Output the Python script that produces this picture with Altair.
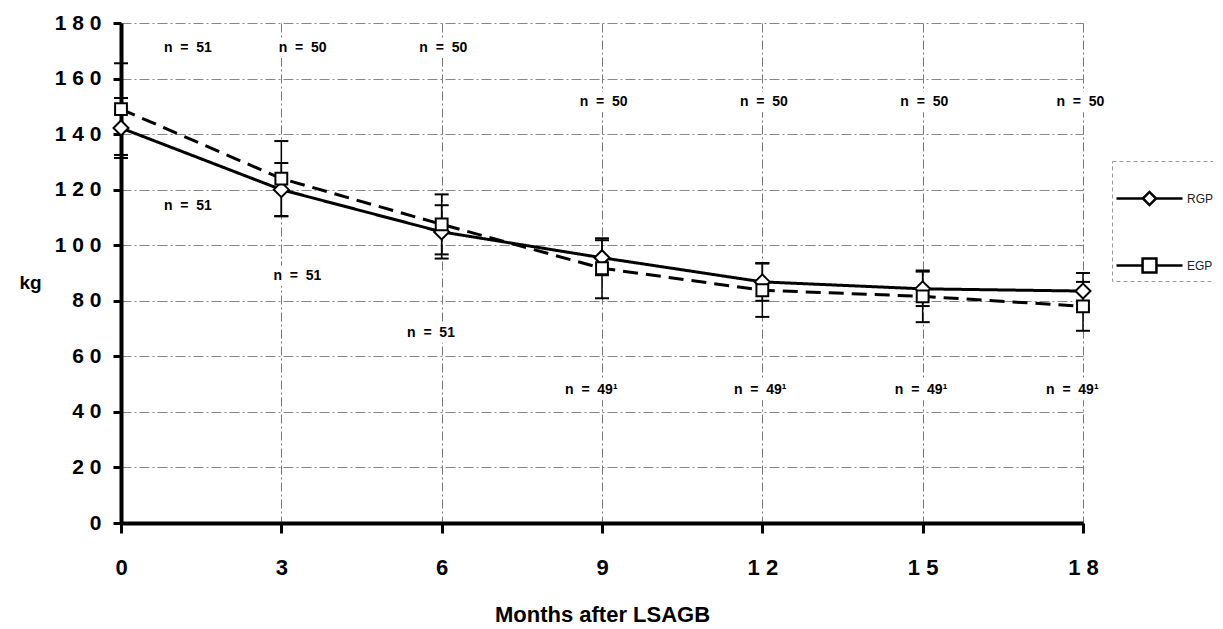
import altair as alt
import pandas as pd

# ---- data ----
months = [0, 3, 6, 9, 12, 15, 18]
series_names = ["RGP", "EGP"]
rgp_mean = [142.2, 120.0, 104.8, 95.5, 86.8, 84.3, 83.5]
rgp_sd = [10.8, 9.6, 9.6, 6.3, 6.8, 6.2, 6.5]
egp_mean = [149.0, 124.0, 107.5, 91.7, 83.8, 81.6, 78.0]
egp_sd = [16.5, 13.5, 10.8, 10.8, 9.6, 9.3, 8.8]

NB = "\u00a0\u00a0"
label_text = [
    "n" + NB + "=" + NB + "51", "n" + NB + "=" + NB + "50", "n" + NB + "=" + NB + "50",
    "n" + NB + "=" + NB + "50", "n" + NB + "=" + NB + "50", "n" + NB + "=" + NB + "50",
    "n" + NB + "=" + NB + "50",
    "n" + NB + "=" + NB + "51", "n" + NB + "=" + NB + "51", "n" + NB + "=" + NB + "51",
    "n" + NB + "=" + NB + "49\u00b9", "n" + NB + "=" + NB + "49\u00b9",
    "n" + NB + "=" + NB + "49\u00b9", "n" + NB + "=" + NB + "49\u00b9",
]
label_month = [1.25, 3.4, 6.03, 9.03, 12.03, 15.03, 17.95,
               1.25, 3.3, 5.8, 8.8, 11.96, 14.97, 17.8]
label_kg = [171, 171, 171, 151.5, 151.5, 151.5, 151.5,
            114.2, 89, 68.5, 47.8, 47.8, 47.8, 47.8]

rows = []
for name, means, sds in [("RGP", rgp_mean, rgp_sd), ("EGP", egp_mean, egp_sd)]:
    for m, v, s in zip(months, means, sds):
        rows.append({"series": name, "month": m, "mean": v, "lo": v - s, "hi": v + s})
df = pd.DataFrame(rows)
labels = pd.DataFrame({"text": label_text, "month": label_month, "kg": label_kg})

FONT = "Liberation Sans"
digits_expr = "join(split(datum.label, ''), ' ')"

xscale = alt.Scale(domain=[0, 18], nice=False, zero=False)
yscale = alt.Scale(domain=[0, 180], nice=False)

xaxis = alt.Axis(
    values=months, title="Months after LSAGB", labelExpr=digits_expr, labelFlush=False,
    labelFont=FONT, labelFontSize=22, labelFontWeight="bold", labelColor="black",
    labelPadding=24, tickSize=10, tickWidth=3, tickColor="black",
    domainColor="black", domainWidth=4,
    grid=True, gridColor="#777", gridWidth=1, gridDash=[9, 3, 2, 3],
    titleFont=FONT, titleFontSize=22, titleFontWeight="bold", titleColor="black",
    titlePadding=26,
)
yaxis = alt.Axis(
    values=list(range(0, 181, 20)), title="kg", labelExpr=digits_expr,
    labelFont=FONT, labelFontSize=21, labelFontWeight="bold", labelColor="black",
    labelPadding=12, tickSize=8, tickWidth=3, tickColor="black",
    domainColor="black", domainWidth=4,
    grid=True, gridColor="#888", gridWidth=1, gridDash=[10, 3, 2, 3],
    titleFont=FONT, titleFontSize=19, titleFontWeight="bold", titleColor="black",
    titleAngle=0, titleX=-91, titleY=259, titleAlign="center", titleBaseline="middle",
)

X = alt.X("month:Q", scale=xscale, axis=xaxis, title="Months after LSAGB")

base = alt.Chart(df)

boxes = alt.Chart(labels).mark_point(
    shape="M-1,-0.36L1,-0.36L1,0.36L-1,0.36Z", size=3136, filled=True,
    fill="white", strokeWidth=0, opacity=1,
).encode(x=X, y=alt.Y("kg:Q", scale=yscale, axis=yaxis, title="kg"))

texts = alt.Chart(labels).mark_text(
    font=FONT, fontSize=14, fontWeight="bold", color="black", baseline="middle",
).encode(x=X, y=alt.Y("kg:Q", scale=yscale, axis=yaxis, title="kg"), text="text:N")

rules = base.mark_rule(color="black", strokeWidth=1.5).encode(
    x=X, y=alt.Y("lo:Q", scale=yscale, axis=yaxis, title="kg"), y2="hi:Q"
)
caps_lo = base.mark_tick(orient="horizontal", size=14, thickness=2, color="black", opacity=1).encode(
    x=X, y=alt.Y("lo:Q", scale=yscale, axis=yaxis, title="kg")
)
caps_hi = base.mark_tick(orient="horizontal", size=14, thickness=2, color="black", opacity=1).encode(
    x=X, y=alt.Y("hi:Q", scale=yscale, axis=yaxis, title="kg")
)

lines = base.mark_line(color="black", strokeWidth=3).encode(
    x=X, y=alt.Y("mean:Q", scale=yscale, axis=yaxis, title="kg"),
    strokeDash=alt.StrokeDash("series:N", scale=alt.Scale(domain=series_names, range=[[1, 0], [15, 8]]), legend=None),
    detail="series:N",
)

points = base.mark_point(filled=True, fill="white", stroke="black", strokeWidth=2, opacity=1).encode(
    x=X, y=alt.Y("mean:Q", scale=yscale, axis=yaxis, title="kg"),
    shape=alt.Shape("series:N", scale=alt.Scale(domain=series_names, range=["diamond", "square"]), legend=None),
    size=alt.Size("series:N", scale=alt.Scale(domain=series_names, range=[225, 140]), legend=None),
)

rgp_sym = "M-1,0L-0.2,0M0.2,0L1,0M-0.2,0L0,-0.2L0.2,0L0,0.2Z"
egp_sym = "M-1,0L-0.21,0M0.21,0L1,0M-0.21,-0.21L0.21,-0.21L0.21,0.21L-0.21,0.21Z"

# legend-only layer: no data rows drawn, entries come from the scale domain
legend_layer = base.transform_filter("false").mark_point(
    filled=False, color="black", strokeWidth=2.5, opacity=1
).encode(
    x=X, y=alt.Y("mean:Q", scale=yscale, axis=yaxis, title="kg"),
    shape=alt.Shape(
        "series:N",
        scale=alt.Scale(domain=series_names, range=[rgp_sym, egp_sym]),
        legend=alt.Legend(
            title=None, orient="none", legendX=991, legendY=138, direction="vertical",
            symbolSize=4356, symbolStrokeWidth=2.5, symbolStrokeColor="black",
            symbolOpacity=1,
            labelFont=FONT, labelFontSize=12, labelColor="#222",
            labelOffset=3, rowPadding=20, padding=3,
            strokeColor="#999",
        ),
    ),
)

chart = alt.layer(boxes, texts, rules, caps_lo, caps_hi, lines, points, legend_layer).resolve_scale(
    shape="independent"
).properties(
    width=962, height=500,
    autosize=alt.AutoSizeParams(type="none"),
    padding={"left": 113, "top": 15, "right": 130, "bottom": 106},
    background="white",
).configure_view(stroke=None).configure_legend(strokeDash=[4, 3])

chart.save("out.html", embed_options={"renderer": "svg", "actions": False})
